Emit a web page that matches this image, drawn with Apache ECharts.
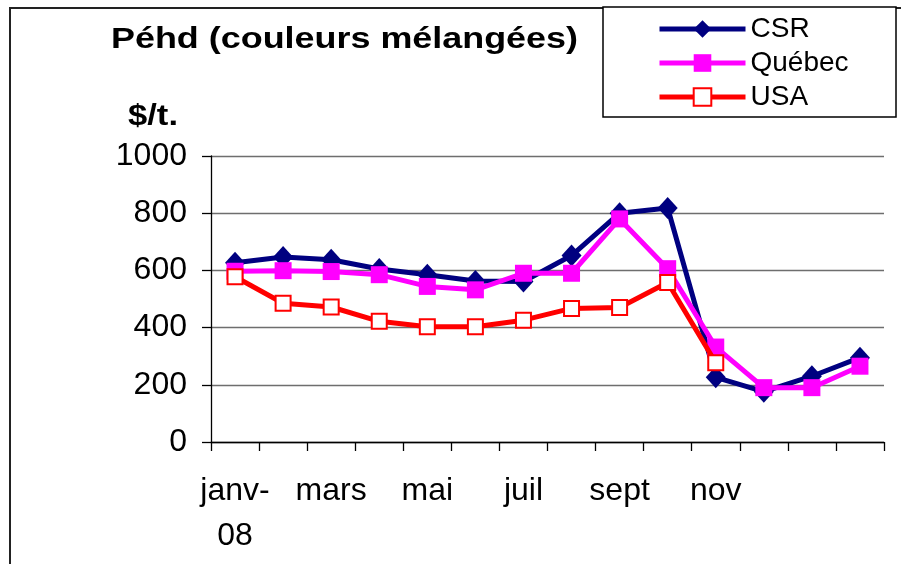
<!DOCTYPE html>
<html>
<head>
<meta charset="utf-8">
<script src="https://cdn.jsdelivr.net/npm/echarts@6/dist/echarts.min.js"></script>
<style>html,body{margin:0;padding:0;background:#fff}#c{width:901px;height:564px}</style>
</head>
<body>
<div id="c"></div>
<script>
// ---- data ----
var titleText = 'Péhd (couleurs mélangées)';
var unitText = '$/t.';
var categories = ['janv-08','févr-08','mars-08','avr-08','mai-08','juin-08','juil-08','août-08','sept-08','oct-08','nov-08','déc-08','janv-09','févr-09'];
var tickLabels = ['janv-\n08','','mars','','mai','','juil','','sept','','nov','','',''];
var seriesNames = ['CSR','Québec','USA'];
var csr    = [627, 647, 637, 605, 585, 563, 561, 652, 800, 818, 226, 176, 230, 295];
var quebec = [597, 599, 596, 585, 544, 532, 590, 590, 780, 606, 332, 190, 190, 265];
var usa    = [578, 485, 472, 422, 403, 403, 426, 467, 470, 558, 277, null, null, null];
var yTicks = [0, 200, 400, 600, 800, 1000];

// ---- helpers ----
var FONT = '"Liberation Sans", Arial, sans-serif';
function measure(txt, font){
  var cv = document.createElement('canvas').getContext('2d');
  cv.font = font; return cv.measureText(txt).width;
}
var titleFont = 'bold 30px ' + FONT;
var titleScale = 467 / measure(titleText, titleFont);
var unitScale = 50 / measure(unitText, titleFont);

var colors = ['#000080', '#ff00ff', '#ff0000'];

var chart = echarts.init(document.getElementById('c'), null, {renderer:'canvas'});
var option = {
  animation: false,
  backgroundColor: '#ffffff',
  textStyle: {fontFamily: FONT},
  grid: {left: 211, right: 17, top: 156, bottom: 122, containLabel: false},
  xAxis: {
    type: 'category',
    data: categories,
    boundaryGap: true,
    axisLine: {lineStyle: {color: '#000', width: 1.3}},
    axisTick: {show: true, interval: 0, length: 9, lineStyle: {color: '#000', width: 1.3}},
    axisLabel: {
      interval: 0, color: '#000', fontSize: 32, fontFamily: FONT, lineHeight: 45, margin: 27,
      formatter: function(v, i){ return tickLabels[i]; }
    },
    splitLine: {show: false}
  },
  yAxis: {
    type: 'value',
    min: yTicks[0], max: yTicks[yTicks.length-1], interval: 200,
    axisLine: {show: true, lineStyle: {color: '#000', width: 1.3}},
    axisTick: {show: true, length: 9, lineStyle: {color: '#000', width: 1.3}},
    axisLabel: {color: '#000', fontSize: 32, fontFamily: FONT, margin: 24,
      formatter: function(v){ return String(v); }},
    splitLine: {show: true, lineStyle: {color: '#6e6e6e', width: 1.3}}
  },
  legend: {
    orient: 'vertical',
    left: 657, top: 15,
    padding: 0,
    itemWidth: 86, itemHeight: 22, itemGap: 6,
    textStyle: {color: '#000', fontSize: 28, fontFamily: FONT, padding: [0,0,0,0]},
    data: [
      {name: seriesNames[0], lineStyle: {width: 5}},
      {name: seriesNames[1], lineStyle: {width: 5}},
      {name: seriesNames[2], lineStyle: {width: 5}}
    ]
  },
  graphic: [
    {type: 'rect', z: -10, silent: true, shape: {x: 10, y: 8, width: 1000, height: 1000},
      style: {fill: 'none', stroke: '#222', lineWidth: 2}},
    {type: 'rect', z: 1, silent: true, shape: {x: 603, y: 7, width: 293, height: 110},
      style: {fill: '#fff', stroke: '#000', lineWidth: 1.5}},
    {type: 'text', x: 111, y: 39.6, scaleX: titleScale, silent: true,
      style: {text: titleText, font: titleFont, fill: '#000', verticalAlign: 'middle', align: 'left'}},
    {type: 'text', x: 128, y: 116.3, scaleX: unitScale, silent: true,
      style: {text: unitText, font: titleFont, fill: '#000', verticalAlign: 'middle', align: 'left'}}
  ],
  series: [
    {name: seriesNames[0], type: 'line', data: csr, symbol: 'diamond', symbolSize: [20, 22],
      lineStyle: {color: colors[0], width: 5}, itemStyle: {color: colors[0]}, z: 3},
    {name: seriesNames[1], type: 'line', data: quebec, symbol: 'rect', symbolSize: 17,
      lineStyle: {color: colors[1], width: 5}, itemStyle: {color: colors[1]}, z: 4},
    {name: seriesNames[2], type: 'line', data: usa, symbol: 'rect', symbolSize: 15,
      lineStyle: {color: colors[2], width: 5},
      itemStyle: {color: '#ffffff', borderColor: colors[2], borderWidth: 2}, z: 5}
  ]
};
chart.setOption(option);
</script>
</body>
</html>
